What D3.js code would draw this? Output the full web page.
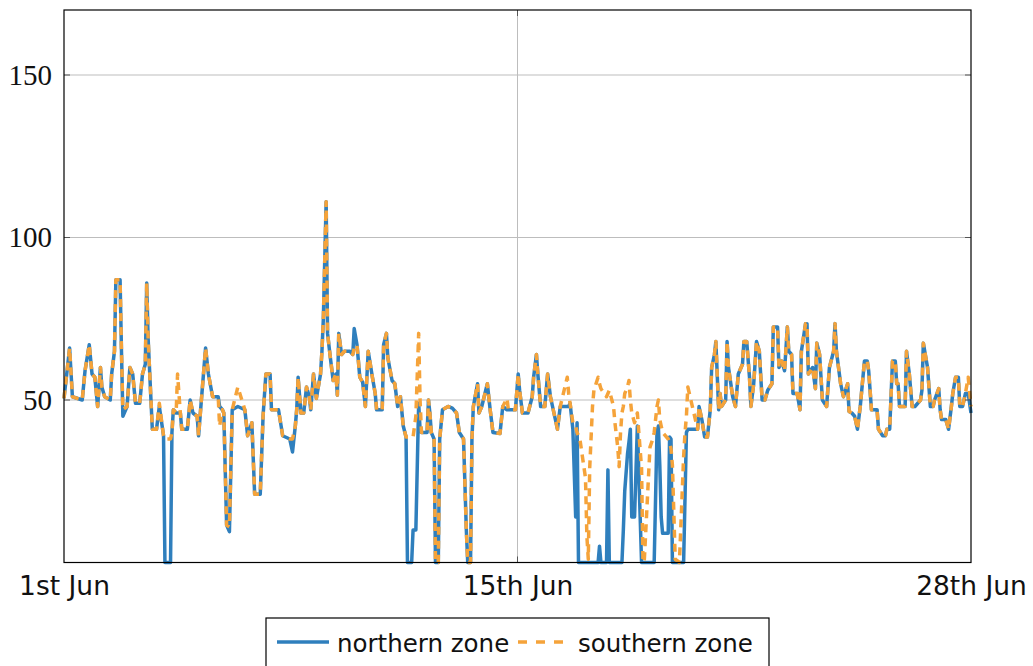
<!DOCTYPE html>
<html>
<head>
<meta charset="utf-8">
<script src="https://cdn.jsdelivr.net/npm/d3@7"></script>
<style>
  body { margin: 0; background: #fff; }
</style>
</head>
<body>
<div id="chart"></div>
<script>
// hours since 1st Jun 00:00 (turning points)
var hours = [0,4,6,13,15,18,20,22,24,26,27,29,33,34,36,37,40,41,42,45,47,49,51,54,56,58,59,60,63,66,68,71,72,76,77,78,80,81,83,84,88,90,92,95,96,98,101,103,106,110,111,113,114,116,118,120,124,129,131,134,136,140,142,144,147,148,153,156,161,163,165,166,167,169,171,173,175,176,178,180,183,184,185,187,188,190,192,194,195,196,198,200,204,206,207,209,211,213,215,217,220,222,223,227,228,230,231,234,236,238,240,242,244,245,248,249,251,253,254,255,259,260,261,262,264,265,267,268,270,274,277,280,282,285,287,288,290,291,292,295,296,298,302,304,306,311,313,316,317,322,324,325,327,331,334,335,337,338,340,343,345,347,349,352,354,359,360,361,363,365,366,367,368,372,373,374,375,377,378,381,382,383,387,388,389,392,393,395,396,397,398,399,400,402,403,404,405,407,409,412,413,414,418,420,421,423,424,425,426,427,431,432,433,434,436,439,442,443,444,445,452,453,455,457,459,461,462,464,465,467,468,469,472,473,474,477,479,481,484,485,487,489,490,492,494,496,498,500,502,505,506,509,510,512,514,516,517,519,520,523,525,526,529,530,531,534,536,537,539,541,544,546,549,550,551,554,556,559,560,562,564,566,568,571,573,574,576,577,580,581,584,586,587,589,591,593,594,595,596,600,601,603,605,607,611,612,613,616,618,620,621,624,625,626,629,631,633,634,636,638,639,641,643,645,647];

var northern = [50.5,66,51,50,59,67,58,57,48,60,54,51,50,58,65,87,87,65,45,48,60,58,49,49,58,61,86,69,41,41,48,39,0,0,40,47,46,46,46,41,41,50,46,45,39,50,66,58,51,51,48,47,46,11.5,9.5,47,48,47,39,43,21,21,45,58,58,47,47,39,38,34,42,47,57,46,46,54,51,47,58,50.5,58,65,75,111,70.5,63,56,58,51.5,70.5,64,65,65,64,72,67,57,55.5,48,65,57,52,47,47,67,70.5,63,56,55,48,51,42,38.6,0,0,10,10,49,41,40,40,50,46,40,38,0,0,38,47,48,47.5,46,40,38,10,0,0,38,48,55,46,48,55,47,40,39.7,48,47,47,47,58,53,46,46,51,57,64,58,48,48,58,51,47,41,48,48,48,49,41,14,43,0,0,0,0,0,0,0,0,0,5,0,0,28.5,0,0,0,0,0,0,0,10,22,33.5,37,41,14,14,42,0,0,0,0,0,0,40,42,30,14,9,9,38.6,38,0,0,0,0,20,40,41,41,48,44,38.6,38.6,47,60,64,68,47,52,48,50,68,60,51,48,58,61,68,68,57,48,55,68,65,50,50,53,55,72.5,72.5,60,62,59,72.5,65,64,52,52,47,65,73.5,73.5,58,60,53.5,67.5,64,50,48,60,65,73.5,65,55,51,55,46.5,46,45,41,48,62,62,59,47,47,47,41,39,39,41,41,62,62,55,55,48,48,65,58,48,48,50,53,67.5,60,48,48,50,53.5,47,44,44,41,48,52,57,57,48,48,52,52,46];

var southern = [50.5,66,51,50,59,67,58,57,48,60,54,51,50,58,65,87,87,65,47,48,60,58,49,49,58,61,86,69,41,41,49,39,38,38,40,47,46,58,46,41,41,50,46,45,39,50,66,58,51,51,42,47,46,11.5,11,47,54,47,39,43,21,21,45,58,58,47,47,39,38,38,42,47,57,46,46,54,51,47,58,50.5,58,65,75,111,70.5,63,56,58,51.5,70.5,64,65,65,64,66,67,57,55.5,48,65,57,52,47,47,67,70.5,63,56,55,48,51,42,38.6,38.6,38.6,38.6,45,70.5,50,40,40,50,46,40,38,0,0,38,47,48,47.5,46,40,38,10,0,0,38,48,55,46,48,55,47,40,39.7,48,50.5,47,47,58,53,46,46,51,57,64,58,48,48,58,51,47,41,48,57,52,49,43,42,40,39,38,26,8,1,29,48,53,57,55,53.5,51,52,53,48,43,35.5,29.5,40,46,48,52,54,56,50,46,43,46,29,0,1,35.5,38,40,48,50,44,42,40,38,37,35,30,1,0,32.5,40,45,54,41,48,44,38.6,38.6,47,60,64,68,47,52,48,50,68,60,51,48,58,61,68,68,57,48,55,68,65,50,50,53,55,72.5,72.5,60,62,59,72.5,65,64,52,52,47,65,73.5,73.5,58,60,53.5,67.5,64,50,48,60,65,73.5,65,55,51,55,46.5,46,45,41,48,62,62,59,47,47,47,41,39,39,41,41,62,62,55,55,48,48,65,58,48,48,50,53,67.5,60,48,48,50,53.5,47,44,44,41,48,52,57,57,48,48,52,57,48];

var seriesNames = ['northern zone', 'southern zone'];
var yTicks = [50, 100, 150];
var xTicks = [0, 323.5, 647];
var xTickLabels = ['1st Jun', '15th Jun', '28th Jun'];

var width = 1033,
    height = 666,
    plotLeft = 64,
    plotRight = 971,
    plotTop = 10,
    plotBottom = 562.5;

var blue = '#2f7fbd',
    orange = '#f5a33a',
    gridColor = '#bdbdbd';

var x = d3.scaleLinear().domain([0, 647]).range([plotLeft, plotRight]);
var y = d3.scaleLinear().domain([0, 170]).range([plotBottom, plotTop]);

var svg = d3.select('#chart')
  .append('svg')
  .attr('width', width)
  .attr('height', height);

// grid
svg.append('g')
  .selectAll('line')
  .data(yTicks)
  .join('line')
  .attr('x1', plotLeft).attr('x2', plotRight)
  .attr('y1', function(d) { return y(d); })
  .attr('y2', function(d) { return y(d); })
  .style('stroke', gridColor)
  .style('stroke-width', 1);

svg.append('line')
  .attr('x1', x(xTicks[1])).attr('x2', x(xTicks[1]))
  .attr('y1', plotTop).attr('y2', plotBottom)
  .style('stroke', gridColor)
  .style('stroke-width', 1);

// lines
var northData = hours.map(function(h, i) { return [h, northern[i]]; });
var southData = hours.map(function(h, i) { return [h, southern[i]]; });

var line = d3.line()
  .x(function(d) { return x(d[0]); })
  .y(function(d) { return y(d[1]); });

var plot = svg.append('g');

plot.append('path')
  .datum(northData)
  .attr('d', line)
  .style('fill', 'none')
  .style('stroke', blue)
  .style('stroke-width', 3.5)
  .style('stroke-linejoin', 'round');

plot.append('path')
  .datum(southData)
  .attr('d', line)
  .style('fill', 'none')
  .style('stroke', orange)
  .style('stroke-width', 3.5)
  .style('stroke-dasharray', '8,6')
  .style('stroke-linejoin', 'round');

// axes
var yAxis = d3.axisLeft(y).tickValues(yTicks).tickSize(0).tickPadding(12);
var yG = svg.append('g')
  .attr('transform', 'translate(' + plotLeft + ',0)')
  .call(yAxis);
yG.select('.domain').remove();
yG.selectAll('text')
  .attr('font-family', '"Liberation Serif", serif')
  .attr('font-size', '29px')
  .attr('fill', '#111');

var xAxis = d3.axisBottom(x).tickValues(xTicks).tickSize(0)
  .tickFormat(function(d, i) { return xTickLabels[i]; });
var xG = svg.append('g')
  .attr('transform', 'translate(0,' + plotBottom + ')')
  .call(xAxis);
xG.select('.domain').remove();
xG.selectAll('text')
  .attr('dy', null)
  .attr('y', 32.5)
  .attr('font-family', '"DejaVu Sans", sans-serif')
  .attr('font-size', '26.5px')
  .attr('fill', '#111');

// inward tick marks
svg.append('g')
  .selectAll('path')
  .data(yTicks)
  .join('path')
  .attr('d', function(d) {
    return 'M' + plotLeft + ',' + y(d) + 'h6M' + plotRight + ',' + y(d) + 'h-6';
  })
  .style('stroke', '#555');

svg.append('path')
  .attr('d', 'M' + x(xTicks[1]) + ',' + plotBottom + 'v-6M' + x(xTicks[1]) + ',' + plotTop + 'v6')
  .style('stroke', '#555');

// frame
svg.append('rect')
  .attr('x', plotLeft).attr('y', plotTop)
  .attr('width', plotRight - plotLeft).attr('height', plotBottom - plotTop)
  .style('fill', 'none')
  .style('stroke', '#000')
  .style('stroke-width', 1.2);

// legend
var legend = svg.append('g');
legend.append('rect')
  .attr('x', 266).attr('y', 618)
  .attr('width', 503).attr('height', 60)
  .style('fill', '#fff')
  .style('stroke', '#000')
  .style('stroke-width', 1.2);

var legendItems = [
  { name: seriesNames[0], color: blue, dash: null, x: 277, len: 52 },
  { name: seriesNames[1], color: orange, dash: '9,9', x: 518, len: 46 }
];

legendItems.forEach(function(it) {
  legend.append('line')
    .attr('x1', it.x).attr('x2', it.x + it.len)
    .attr('y1', 642).attr('y2', 642)
    .style('stroke', it.color)
    .style('stroke-width', 3.5)
    .style('stroke-dasharray', it.dash);
  legend.append('text')
    .text(it.name)
    .attr('x', it == legendItems[0] ? 337 : 578)
    .attr('y', 652)
    .attr('font-family', '"DejaVu Sans", sans-serif')
    .attr('font-size', '24.5px')
    .attr('fill', '#111');
});
</script>
</body>
</html>
